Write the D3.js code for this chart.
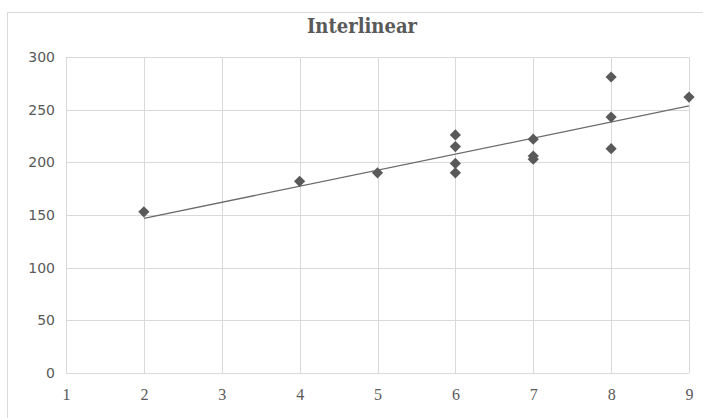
<!DOCTYPE html>
<html>
<head>
<meta charset="utf-8">
<title>Interlinear</title>
<script src="https://d3js.org/d3.v7.min.js"></script>
<style>
  body { margin: 0; background: #fff; }
</style>
</head>
<body>
<div id="chart"></div>
<script>
// data
const xs = [2, 4, 5, 6, 6, 6, 6, 7, 7, 7, 8, 8, 8, 9];
const ys = [153, 182, 190, 226, 215, 199, 190, 222, 206, 203, 281, 243, 213, 262];
const xTicks = [1, 2, 3, 4, 5, 6, 7, 8, 9];
const yTicks = [0, 50, 100, 150, 200, 250, 300];

const W = 703, H = 418;
const margin = { top: 57, right: 14, bottom: 45, left: 66 };
const width = W - margin.left - margin.right,
      height = H - margin.top - margin.bottom;

const svg = d3.select("#chart").append("svg")
  .attr("width", W).attr("height", H);

// chart area border
svg.append("rect")
  .attr("x", 7.5).attr("y", 12.5)
  .attr("width", W).attr("height", H)
  .attr("fill", "none").attr("stroke", "#d9d9d9");

svg.append("text")
  .attr("x", 362).attr("y", 33)
  .attr("text-anchor", "middle")
  .attr("fill", "#595959")
  .style("font-family", "'DejaVu Serif Condensed', 'DejaVu Serif', serif")
  .style("font-weight", "bold")
  .style("font-size", "20px")
  .text("Interlinear");

const g = svg.append("g").attr("transform", `translate(${margin.left},${margin.top})`);

const x = d3.scaleLinear().domain([1, 9]).range([0, width]);
const y = d3.scaleLinear().domain([0, 300]).range([height, 0]);

// grid
g.selectAll(".hgrid").data(yTicks).join("line")
  .attr("x1", 0).attr("x2", width)
  .attr("y1", d => Math.round(y(d)) + 0.5).attr("y2", d => Math.round(y(d)) + 0.5)
  .attr("stroke", "#d9d9d9");
g.selectAll(".vgrid").data(xTicks).join("line")
  .attr("y1", 0).attr("y2", height)
  .attr("x1", d => Math.round(x(d)) + 0.5).attr("x2", d => Math.round(x(d)) + 0.5)
  .attr("stroke", "#d9d9d9");

// axes (labels only)
const yAxis = g.append("g").call(d3.axisLeft(y).tickValues(yTicks).tickSize(0).tickPadding(11));
yAxis.select(".domain").remove();
yAxis.selectAll("text")
  .attr("fill", "#595959")
  .style("font-family", "'DejaVu Sans', sans-serif")
  .style("font-size", "14px");

const xAxis = g.append("g").attr("transform", `translate(0,${height})`)
  .call(d3.axisBottom(x).tickValues(xTicks).tickSize(0).tickPadding(16));
xAxis.select(".domain").remove();
xAxis.selectAll("text")
  .attr("fill", "#595959")
  .style("font-family", "'Liberation Serif', serif")
  .style("font-size", "16px");

// linear trendline (least squares)
const mx = d3.mean(xs), my = d3.mean(ys);
const slope = d3.sum(xs, (d, i) => (d - mx) * (ys[i] - my)) / d3.sum(xs, d => (d - mx) * (d - mx));
const icpt = my - slope * mx;
const x0 = d3.min(xs), x1 = d3.max(xs);
g.append("line")
  .attr("x1", x(x0)).attr("y1", y(icpt + slope * x0))
  .attr("x2", x(x1)).attr("y2", y(icpt + slope * x1))
  .attr("stroke", "#6b6b6b").attr("stroke-width", 1.3);

// points
const diamond = d3.symbol().type(d3.symbolDiamond2).size(80);
g.selectAll(".pt").data(xs).join("path")
  .attr("transform", (d, i) => `translate(${x(d)},${y(ys[i])})`)
  .attr("d", diamond)
  .attr("fill", "#595959");
</script>
</body>
</html>
